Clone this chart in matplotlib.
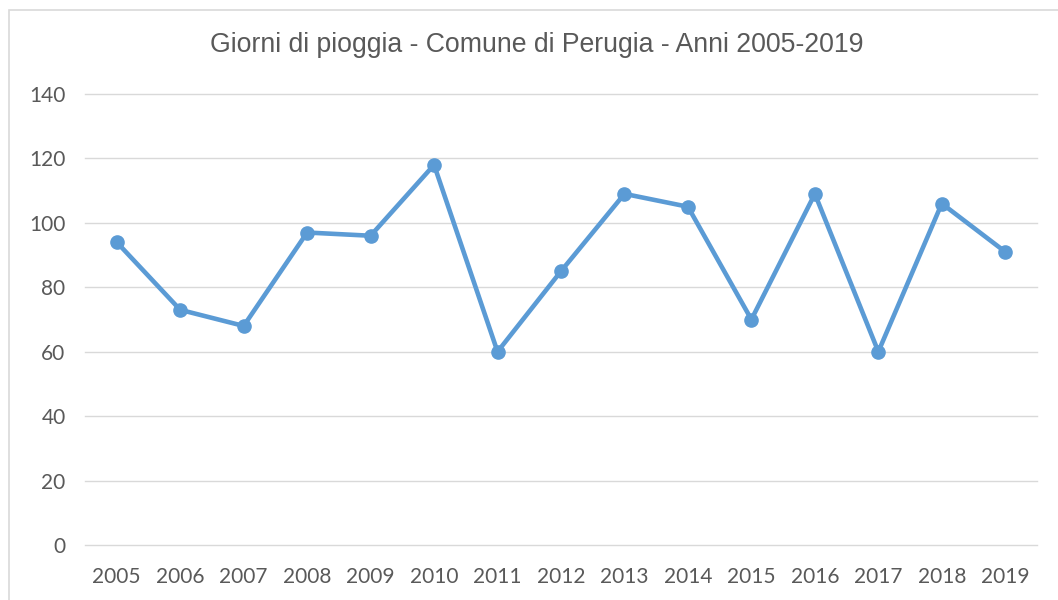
import matplotlib.pyplot as plt
from matplotlib.patches import Rectangle

# dati: giorni di pioggia per anno
anni = ['2005', '2006', '2007', '2008', '2009', '2010', '2011', '2012',
        '2013', '2014', '2015', '2016', '2017', '2018', '2019']
giorni = [94, 73, 68, 97, 96, 118, 60, 85, 109, 105, 70, 109, 60, 106, 91]
y_ticks = [0, 20, 40, 60, 80, 100, 120, 140]

fig = plt.figure(figsize=(10.58, 6.0), dpi=100)
ax = fig.add_axes([85 / 1058, 1 - 545 / 600, (1037 - 85) / 1058, (545 - 94) / 600])

x = list(range(len(anni)))
ax.plot(x, giorni, color='#5B9BD5', linewidth=3.3, marker='o', markersize=9.5,
        solid_capstyle='round', solid_joinstyle='round', zorder=3)

ax.set_xlim(-0.5, len(anni) - 0.5)
ax.set_ylim(0, 140)
ax.set_yticks(y_ticks)
ax.set_xticks(x)
ax.set_xticklabels(anni)
ax.grid(axis='y', color='#D9D9D9', linewidth=1.0)
for g in ax.get_ygridlines():
    g.set_clip_on(False)
ax.set_axisbelow(True)
for s in ax.spines.values():
    s.set_visible(False)
ax.tick_params(length=0, labelsize=15, labelcolor='#595959')
ax.tick_params(axis='x', pad=15.5)
ax.tick_params(axis='y', pad=14)
for lab in ax.get_xticklabels() + ax.get_yticklabels():
    lab.set_family('Lato')

fig.text(537 / 1058, 1 - 45 / 600, 'Giorni di pioggia - Comune di Perugia - Anni 2005-2019',
         ha='center', va='center', fontsize=19.2, color='#595959', family='Liberation Sans')

# cornice del grafico
fig.patches.append(Rectangle((9 / 1058, -0.1), 1.2, 1.1 - 10 / 600,
                             transform=fig.transFigure, fill=False,
                             edgecolor='#D9D9D9', linewidth=1.2))

fig.savefig('out.png', dpi=100)
